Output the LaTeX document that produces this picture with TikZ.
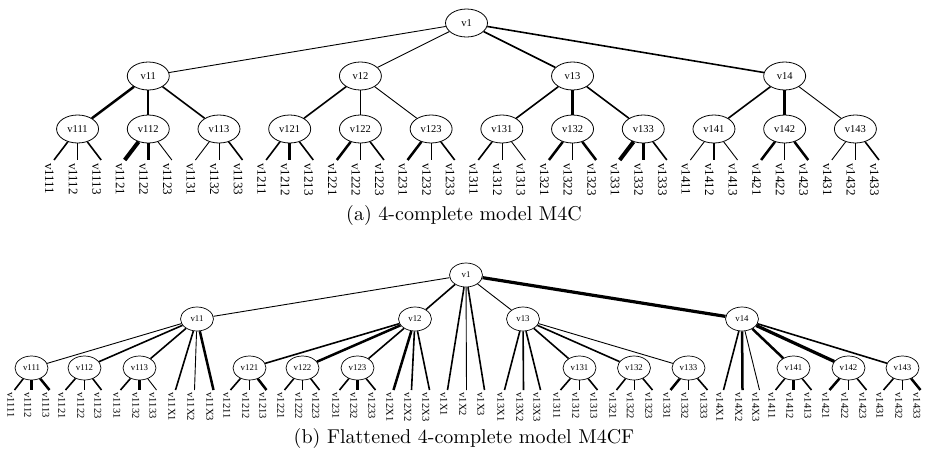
\documentclass[tikz,border=0pt]{standalone}
\usepackage{fontspec}
\usetikzlibrary{shapes.geometric}
\newfontfamily\tms{Liberation Serif}
\begin{document}
\begin{tikzpicture}[x=1pt,y=-1pt,
  ea/.style={draw, ellipse, minimum width=42pt, minimum height=28pt, inner sep=0pt, line width=0.8pt, font=\tms\fontsize{10.5}{10.5}\selectfont},
  eb/.style={draw, ellipse, minimum width=33pt, minimum height=24pt, inner sep=0pt, line width=0.7pt, font=\tms\fontsize{8.8}{8.8}\selectfont},
  la/.style={rotate=-90, anchor=north west, inner xsep=3pt, inner ysep=0pt, font=\tms\fontsize{13}{13}\selectfont},
  lb/.style={rotate=-90, anchor=north west, inner xsep=2.5pt, inner ysep=0pt, font=\tms\fontsize{10.5}{10.5}\selectfont},
  wh/.style={line width=0.5pt}, wt/.style={line width=0.9pt}, wm/.style={line width=1.6pt},
  wk/.style={line width=2.5pt}, wv/.style={line width=4pt}, wx/.style={line width=3.2pt},
  captext/.style={scale=2, font=\normalsize, anchor=base}]
\useasboundingbox (0,0) rectangle (928,461);
% ---------------- (a) ----------------
\node[ea] (a1) at (466.5,23) {v1};
\foreach \p in {1,...,4}{
  \pgfmathsetmacro\xx{54+23.57*(9*(\p-1)+4)}
  \node[ea] (a1\p) at (\xx,76) {v1\p};
  \foreach \q in {1,2,3}{
    \pgfmathsetmacro\xy{54+23.57*(9*(\p-1)+3*(\q-1)+1)}
    \node[ea] (a1\p\q) at (\xy,129) {v1\p\q};
    \foreach \r in {1,2,3}{
      \pgfmathsetmacro\xz{54+23.57*(9*(\p-1)+3*(\q-1)+\r-1)}
      \node[la] (a1\p\q\r) at (\xz,160) {v1\p\q\r};
    }
  }
}
\foreach \c/\s in {11/wt,12/wt,13/wm,14/wm}
  \draw[\s] (a1) -- (a\c);
\foreach \p/\c/\s in {11/111/wk,11/112/wm,11/113/wm,12/121/wm,12/122/wh,12/123/wt,
                      13/131/wm,13/132/wk,13/133/wm,14/141/wm,14/142/wk,14/143/wt}
  \draw[\s] (a\p) -- (a\c);
\foreach \p/\c/\s in {111/1111/wm,111/1112/wt,111/1113/wm,
  112/1121/wv,112/1122/wk,112/1123/wt,
  113/1131/wt,113/1132/wt,113/1133/wm,
  121/1211/wm,121/1212/wk,121/1213/wm,
  122/1221/wk,122/1222/wh,122/1223/wm,
  123/1231/wk,123/1232/wt,123/1233/wm,
  131/1311/wm,131/1312/wh,131/1313/wt,
  132/1321/wk,132/1322/wt,132/1323/wk,
  133/1331/wv,133/1332/wk,133/1333/wm,
  141/1411/wt,141/1412/wk,141/1413/wt,
  142/1421/wk,142/1422/wt,142/1423/wk,
  143/1431/wt,143/1432/wh,143/1433/wm}
  \draw[\s] (a\p) -- (a\c.north west);
\node[captext] (capa) at (464,220) {(a) 4-complete model M4C};
% ---------------- (b) ----------------
\node[eb] (b1) at (466,275) {v1};
\foreach \n/\xx in {11/197,12/415,13/523,14/742}
  \node[eb] (b\n) at (\xx,319) {v\n};
\foreach \n/\xx in {111/31.5,112/84.5,113/139.5,121/249.5,122/302.5,123/357.5,
                    131/579.5,132/634,133/688.5,141/793.5,142/848.5,143/902.5}
  \node[eb] (b\n) at (\xx,368) {v\n};
\foreach \n/\xx in {1111/14.5,1112/31.5,1113/49.5,1121/65.5,1122/84.5,1123/101.5,
  1131/120.5,1132/139.5,1133/156.5,11X1/175.5,11X2/194.5,11X3/213.5,
  1211/230.5,1212/249.5,1213/266.5,1221/284.5,1222/302.5,1223/319.5,
  1231/339.5,1232/357.5,1233/375.5,12X1/393.5,12X2/411.5,12X3/429.5,
  1X1/447.5,1X2/466.5,1X3/484.5,13X1/504.5,13X2/523.5,13X3/540.5,
  1311/560.5,1312/579.5,1313/597.5,1321/616.5,1322/634,1323/652.5,
  1331/670.5,1332/688.5,1333/707.5,14X1/723.5,14X2/742.5,14X3/759.5,
  1411/775.5,1412/793.5,1413/811.5,1421/829.5,1422/848.5,1423/866.5,
  1431/883.5,1432/902.5,1433/920.5}
  \node[lb] (b\n) at (\xx,390) {v\n};
\foreach \c/\s in {11/wt,12/wm,13/wt,14/wx}
  \draw[\s] (b1) -- (b\c);
\foreach \c/\s in {1X1/wm,1X2/wt,1X3/wm}
  \draw[\s] (b1) -- (b\c.north west);
\foreach \p/\c/\s in {11/111/wt,11/112/wm,11/113/wm,
  12/121/wm,12/122/wk,12/123/wm,
  13/131/wm,13/132/wm,13/133/wt,
  14/141/wk,14/142/wx,14/143/wm}
  \draw[\s] (b\p) -- (b\c);
\foreach \p/\c/\s in {11/11X1/wm,11/11X2/wt,11/11X3/wk,
  12/12X1/wk,12/12X2/wm,12/12X3/wm,
  13/13X1/wm,13/13X2/wm,13/13X3/wm,
  14/14X1/wm,14/14X2/wk,14/14X3/wt,
  111/1111/wm,111/1112/wk,111/1113/wk,
  112/1121/wm,112/1122/wt,112/1123/wm,
  113/1131/wm,113/1132/wk,113/1133/wt,
  121/1211/wm,121/1212/wt,121/1213/wk,
  122/1221/wm,122/1222/wm,122/1223/wm,
  123/1231/wm,123/1232/wk,123/1233/wm,
  131/1311/wm,131/1312/wm,131/1313/wm,
  132/1321/wm,132/1322/wt,132/1323/wm,
  133/1331/wk,133/1332/wt,133/1333/wm,
  141/1411/wm,141/1412/wk,141/1413/wm,
  142/1421/wk,142/1422/wt,142/1423/wm,
  143/1431/wm,143/1432/wm,143/1433/wk}
  \draw[\s] (b\p) -- (b\c.north west);
\node[captext] (capb) at (464,443) {(b) Flattened 4-complete model M4CF};
\end{tikzpicture}
\end{document}
